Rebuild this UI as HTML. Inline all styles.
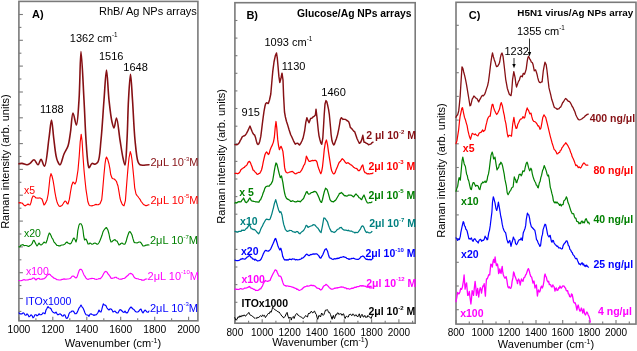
<!DOCTYPE html><html><head><meta charset="utf-8"><style>html,body{margin:0;padding:0;background:#fff;overflow:hidden}svg{display:block;will-change:transform}</style></head><body>
<svg width="637" height="351" viewBox="0 0 637 351" font-family='"Liberation Sans", sans-serif'>
<rect width="637" height="351" fill="#fff"/>
<rect x="18.9" y="1.4" width="179.0" height="319.40000000000003" fill="none" stroke="#7a7a7a" stroke-width="1.6"/>
<line x1="18.9" y1="14.5" x2="22.9" y2="14.5" stroke="#7a7a7a" stroke-width="1.1"/>
<line x1="18.9" y1="27.4" x2="21.4" y2="27.4" stroke="#7a7a7a" stroke-width="1.1"/>
<line x1="18.9" y1="40.3" x2="22.9" y2="40.3" stroke="#7a7a7a" stroke-width="1.1"/>
<line x1="18.9" y1="53.2" x2="21.4" y2="53.2" stroke="#7a7a7a" stroke-width="1.1"/>
<line x1="18.9" y1="66.1" x2="22.9" y2="66.1" stroke="#7a7a7a" stroke-width="1.1"/>
<line x1="18.9" y1="79.0" x2="21.4" y2="79.0" stroke="#7a7a7a" stroke-width="1.1"/>
<line x1="18.9" y1="92.0" x2="22.9" y2="92.0" stroke="#7a7a7a" stroke-width="1.1"/>
<line x1="18.9" y1="104.9" x2="21.4" y2="104.9" stroke="#7a7a7a" stroke-width="1.1"/>
<line x1="18.9" y1="117.8" x2="22.9" y2="117.8" stroke="#7a7a7a" stroke-width="1.1"/>
<line x1="18.9" y1="130.7" x2="21.4" y2="130.7" stroke="#7a7a7a" stroke-width="1.1"/>
<line x1="18.9" y1="143.6" x2="22.9" y2="143.6" stroke="#7a7a7a" stroke-width="1.1"/>
<line x1="18.9" y1="156.5" x2="21.4" y2="156.5" stroke="#7a7a7a" stroke-width="1.1"/>
<line x1="18.9" y1="169.4" x2="22.9" y2="169.4" stroke="#7a7a7a" stroke-width="1.1"/>
<line x1="18.9" y1="182.3" x2="21.4" y2="182.3" stroke="#7a7a7a" stroke-width="1.1"/>
<line x1="18.9" y1="195.2" x2="22.9" y2="195.2" stroke="#7a7a7a" stroke-width="1.1"/>
<line x1="18.9" y1="208.2" x2="21.4" y2="208.2" stroke="#7a7a7a" stroke-width="1.1"/>
<line x1="18.9" y1="221.1" x2="22.9" y2="221.1" stroke="#7a7a7a" stroke-width="1.1"/>
<line x1="18.9" y1="234.0" x2="21.4" y2="234.0" stroke="#7a7a7a" stroke-width="1.1"/>
<line x1="18.9" y1="246.9" x2="22.9" y2="246.9" stroke="#7a7a7a" stroke-width="1.1"/>
<line x1="18.9" y1="259.8" x2="21.4" y2="259.8" stroke="#7a7a7a" stroke-width="1.1"/>
<line x1="18.9" y1="272.7" x2="22.9" y2="272.7" stroke="#7a7a7a" stroke-width="1.1"/>
<line x1="18.9" y1="285.6" x2="21.4" y2="285.6" stroke="#7a7a7a" stroke-width="1.1"/>
<line x1="18.9" y1="298.5" x2="22.9" y2="298.5" stroke="#7a7a7a" stroke-width="1.1"/>
<line x1="18.9" y1="311.4" x2="21.4" y2="311.4" stroke="#7a7a7a" stroke-width="1.1"/>
<line x1="18.9" y1="320.8" x2="18.9" y2="316.8" stroke="#7a7a7a" stroke-width="1.1"/>
<line x1="35.9" y1="320.8" x2="35.9" y2="318.3" stroke="#7a7a7a" stroke-width="1.1"/>
<line x1="52.8" y1="320.8" x2="52.8" y2="316.8" stroke="#7a7a7a" stroke-width="1.1"/>
<line x1="69.8" y1="320.8" x2="69.8" y2="318.3" stroke="#7a7a7a" stroke-width="1.1"/>
<line x1="86.8" y1="320.8" x2="86.8" y2="316.8" stroke="#7a7a7a" stroke-width="1.1"/>
<line x1="103.8" y1="320.8" x2="103.8" y2="318.3" stroke="#7a7a7a" stroke-width="1.1"/>
<line x1="120.7" y1="320.8" x2="120.7" y2="316.8" stroke="#7a7a7a" stroke-width="1.1"/>
<line x1="137.7" y1="320.8" x2="137.7" y2="318.3" stroke="#7a7a7a" stroke-width="1.1"/>
<line x1="154.7" y1="320.8" x2="154.7" y2="316.8" stroke="#7a7a7a" stroke-width="1.1"/>
<line x1="171.6" y1="320.8" x2="171.6" y2="318.3" stroke="#7a7a7a" stroke-width="1.1"/>
<line x1="188.6" y1="320.8" x2="188.6" y2="316.8" stroke="#7a7a7a" stroke-width="1.1"/>
<text x="18.9" y="332.9" font-size="10.3" fill="#000" font-weight="normal" text-anchor="middle" >1000</text>
<text x="52.8" y="332.9" font-size="10.3" fill="#000" font-weight="normal" text-anchor="middle" >1200</text>
<text x="86.8" y="332.9" font-size="10.3" fill="#000" font-weight="normal" text-anchor="middle" >1400</text>
<text x="120.7" y="332.9" font-size="10.3" fill="#000" font-weight="normal" text-anchor="middle" >1600</text>
<text x="154.7" y="332.9" font-size="10.3" fill="#000" font-weight="normal" text-anchor="middle" >1800</text>
<text x="188.6" y="332.9" font-size="10.3" fill="#000" font-weight="normal" text-anchor="middle" >2000</text>
<text x="113" y="347.3" font-size="11" text-anchor="middle">Wavenumber (cm<tspan dy="-4" font-size="7">-1</tspan><tspan dy="4">)</tspan></text>
<text transform="translate(8.7,161.6) rotate(-90)" font-size="11" text-anchor="middle">Raman intensity (arb. units)</text>
<text x="32" y="18" font-size="11" fill="#000" font-weight="bold" text-anchor="start" >A)</text>
<text x="99" y="15.3" font-size="11" fill="#000" font-weight="normal" text-anchor="start" >RhB/ Ag NPs arrays</text>
<text x="69.8" y="41.6" font-size="11">1362 cm<tspan dy="-5" font-size="6.3">-1</tspan></text>
<text x="40" y="113" font-size="11" fill="#000" font-weight="normal" text-anchor="start" >1188</text>
<text x="99" y="60" font-size="11" fill="#000" font-weight="normal" text-anchor="start" >1516</text>
<text x="123.3" y="71.3" font-size="11" fill="#000" font-weight="normal" text-anchor="start" >1648</text>
<path d="M19.00,163.80 C20.00,163.67 20.88,163.32 22.00,163.40 C23.46,163.50 25.56,164.92 27.00,164.80 C28.15,164.71 28.98,164.08 30.00,163.40 C31.30,162.54 32.72,159.70 34.00,159.80 C35.40,159.91 36.83,164.90 38.00,164.80 C39.15,164.70 39.98,159.38 41.00,159.40 C42.14,159.42 43.47,166.37 44.50,166.20 C46.50,165.88 47.75,146.35 49.00,138.00 C49.99,131.33 50.72,119.99 51.50,120.00 C52.28,120.01 52.94,132.04 53.70,138.00 C54.45,143.88 55.16,151.33 56.00,155.50 C56.48,157.87 56.77,159.39 57.50,161.00 C58.15,162.44 59.16,164.90 60.00,164.80 C61.33,164.65 62.57,157.29 64.00,154.00 C65.26,151.10 66.96,149.12 68.00,146.00 C69.31,142.06 69.72,137.03 70.50,132.00 C71.41,126.16 71.85,113.08 73.00,113.00 C73.93,112.93 75.48,125.08 76.40,125.00 C77.70,124.89 78.30,109.71 79.00,100.00 C79.98,86.52 80.17,51.61 81.00,51.60 C81.83,51.59 83.14,84.63 84.00,100.00 C84.78,113.97 85.22,128.39 86.00,140.00 C86.60,148.96 87.24,159.20 88.00,163.80 C88.32,165.71 88.41,167.69 89.00,167.80 C89.67,167.92 90.82,163.84 92.00,163.40 C92.90,163.07 94.05,164.40 95.00,164.20 C96.06,163.98 97.17,163.26 98.00,161.80 C99.98,158.31 100.11,148.38 101.00,140.00 C102.20,128.69 103.02,112.37 104.00,100.00 C104.85,89.28 105.67,70.00 106.50,70.00 C107.33,70.00 107.99,90.79 109.00,100.00 C109.87,107.91 110.84,117.00 112.00,122.00 C112.62,124.67 113.34,128.03 114.00,128.00 C114.84,127.97 115.68,117.96 116.50,118.00 C117.70,118.05 118.87,133.04 120.00,140.00 C121.03,146.30 121.97,153.41 123.00,158.00 C123.65,160.90 124.44,165.06 125.00,165.00 C126.04,164.90 126.45,149.31 127.00,140.00 C127.69,128.23 127.82,111.86 128.50,100.00 C129.05,90.48 129.83,74.30 130.50,74.30 C131.17,74.30 131.83,90.49 132.50,100.00 C133.33,111.86 133.87,128.69 135.00,140.00 C135.84,148.38 136.54,157.95 138.00,161.80 C138.59,163.36 138.86,164.19 140.00,164.80 C141.81,165.77 146.00,164.80 149.00,164.80" fill="none" stroke="#861014" stroke-width="1.6" stroke-linejoin="round" stroke-linecap="round" opacity="1.0"/>
<path d="M19.0,202.9 L20.0,202.6 L21.0,202.9 L22.0,203.0 L23.0,204.0 L24.0,205.2 L25.0,205.9 L26.0,205.3 L27.0,204.7 L28.0,204.0 L29.0,204.8 L30.0,205.0 L31.0,202.6 L31.9,198.4 L33.0,196.0 L33.9,196.1 L34.9,196.9 L36.0,198.0 L37.0,198.0 L38.0,198.1 L39.0,198.0 L40.1,197.9 L41.1,198.6 L42.0,199.0 L43.1,202.2 L44.0,205.0 L44.9,204.1 L46.0,202.1 L47.0,200.0 L48.2,194.0 L49.2,185.0 L50.0,177.3 L51.0,173.6 L52.0,176.0 L53.1,180.6 L54.0,186.0 L54.9,192.1 L56.0,198.0 L56.8,201.2 L57.8,204.0 L59.0,206.0 L60.0,206.5 L61.0,205.9 L62.0,205.5 L63.1,203.8 L64.0,202.3 L65.0,201.0 L66.0,201.5 L67.1,203.6 L68.0,204.0 L69.4,199.2 L70.5,192.0 L71.6,185.8 L73.0,182.0 L74.0,182.9 L75.0,184.0 L76.2,181.5 L77.1,175.9 L78.0,170.0 L79.2,156.4 L80.2,141.9 L81.2,134.4 L82.1,141.0 L83.0,156.1 L84.0,170.0 L84.9,179.3 L85.9,188.8 L87.0,196.0 L87.8,201.5 L89.0,204.8 L89.9,205.7 L91.0,205.8 L91.9,205.9 L92.9,205.5 L93.9,205.3 L95.0,204.8 L96.0,204.4 L97.1,204.7 L98.1,204.8 L99.1,204.2 L100.0,203.8 L101.7,199.8 L102.4,193.1 L103.0,186.0 L104.0,174.3 L105.0,164.0 L105.7,159.3 L106.5,157.0 L107.7,159.4 L109.0,164.0 L109.9,168.7 L110.7,174.5 L112.0,178.0 L113.1,178.8 L114.2,179.0 L115.3,180.0 L116.4,181.3 L117.2,183.8 L118.0,186.0 L119.1,192.3 L120.0,198.0 L120.9,201.3 L122.0,203.8 L123.0,205.2 L124.0,205.8 L125.4,200.7 L126.2,190.4 L127.0,180.0 L128.0,167.9 L129.0,158.0 L130.3,151.6 L131.2,154.6 L132.0,160.0 L133.0,169.7 L134.0,180.0 L134.7,187.8 L136.0,194.0 L136.9,195.3 L137.9,196.5 L139.0,198.0 L140.0,199.3 L141.0,201.3 L142.0,202.5 L143.0,203.8 L144.0,204.8 L145.0,205.3 L146.0,205.8 L147.0,205.4 L148.0,204.9 L149.0,204.8" fill="none" stroke="#ff0000" stroke-width="1.15" stroke-linejoin="round" stroke-linecap="round" opacity="1.0"/>
<path d="M19.0,246.9 L20.0,246.6 L21.0,245.1 L22.0,245.0 L23.0,244.5 L24.0,245.7 L25.0,245.5 L26.0,245.5 L27.0,245.8 L28.0,246.3 L29.0,246.3 L30.0,245.5 L31.0,245.0 L32.1,243.7 L33.1,241.0 L34.0,240.3 L35.0,242.2 L36.0,244.3 L37.0,246.0 L38.0,244.6 L39.0,243.0 L40.0,244.4 L41.0,245.0 L42.0,244.4 L43.0,243.3 L44.0,242.0 L45.0,242.8 L46.0,243.0 L47.2,239.7 L48.2,235.9 L49.3,233.0 L50.2,234.0 L51.1,235.8 L52.0,238.0 L53.0,239.4 L53.9,241.8 L55.0,243.0 L55.9,244.1 L56.9,245.4 L58.0,245.5 L58.9,245.9 L60.0,245.9 L61.0,245.3 L62.0,245.0 L63.1,244.9 L64.1,244.5 L65.0,244.0 L66.0,242.6 L67.0,242.0 L67.9,243.0 L69.0,243.4 L70.0,244.0 L71.1,243.2 L72.1,241.3 L73.1,239.0 L74.0,238.0 L75.1,239.7 L76.0,242.0 L77.0,238.4 L77.8,230.6 L79.0,225.0 L80.0,223.7 L81.0,223.8 L82.1,225.7 L83.0,230.0 L83.7,236.0 L84.6,240.0 L86.0,239.0 L87.0,241.0 L88.0,244.0 L89.0,244.0 L90.0,243.0 L91.0,243.6 L92.0,244.3 L92.9,244.0 L94.0,243.3 L95.0,243.0 L96.0,243.5 L97.1,244.3 L98.0,244.0 L99.1,242.5 L100.1,240.3 L101.0,238.0 L102.0,235.3 L102.9,232.1 L104.0,230.0 L105.3,228.3 L106.5,227.5 L107.9,230.0 L109.0,234.0 L109.9,238.7 L111.0,242.0 L111.9,241.8 L112.9,240.7 L114.0,240.0 L115.0,239.6 L116.1,240.9 L117.0,241.0 L118.0,243.1 L119.0,245.0 L119.9,244.5 L120.9,243.5 L122.0,243.0 L123.0,243.7 L124.1,244.3 L125.0,244.0 L126.1,241.6 L127.0,238.0 L127.9,235.3 L129.0,232.3 L130.0,231.5 L131.0,233.1 L132.0,235.0 L132.9,238.4 L134.0,242.0 L134.9,242.7 L136.0,242.8 L137.0,243.0 L138.0,242.5 L139.0,242.0 L140.0,242.0 L141.0,242.8 L142.0,244.4 L143.0,246.0 L144.0,245.9 L145.0,245.7 L146.0,245.0 L147.0,245.1 L148.0,244.7 L149.0,245.0" fill="none" stroke="#008000" stroke-width="1.15" stroke-linejoin="round" stroke-linecap="round" opacity="1.0"/>
<path d="M19.0,280.5 L20.0,280.7 L21.0,280.6 L22.0,280.4 L23.0,280.0 L24.0,279.6 L25.0,280.1 L26.0,280.0 L27.0,280.0 L28.0,279.9 L29.0,279.4 L30.0,279.3 L31.0,279.3 L32.1,278.7 L33.1,278.0 L34.0,278.0 L35.0,279.0 L36.0,280.0 L37.0,278.9 L38.0,278.5 L38.9,278.3 L39.9,279.2 L41.0,279.3 L42.0,279.1 L43.0,278.9 L44.0,278.7 L45.0,278.0 L46.1,276.9 L47.1,275.3 L48.0,274.8 L49.0,274.0 L50.0,274.5 L51.0,275.6 L52.0,276.5 L53.0,277.3 L54.0,278.2 L55.0,278.4 L56.0,279.0 L57.0,279.7 L58.0,279.7 L59.0,280.0 L60.0,280.0 L61.0,279.9 L62.0,279.3 L63.0,279.3 L64.0,278.9 L65.0,279.1 L66.0,279.3 L67.0,279.0 L68.0,279.0 L69.0,278.8 L70.0,278.5 L71.0,277.8 L72.0,276.3 L73.0,276.0 L74.0,276.3 L75.0,277.4 L76.0,278.0 L77.1,276.8 L78.1,273.6 L79.1,270.7 L80.0,269.4 L81.2,269.4 L82.1,270.4 L83.0,272.6 L84.0,275.0 L85.0,276.4 L86.0,278.1 L87.0,279.0 L88.0,279.4 L89.0,279.0 L89.9,278.8 L90.9,278.6 L92.0,278.4 L93.0,278.5 L94.0,278.5 L95.0,279.2 L96.0,279.3 L97.0,279.3 L98.0,279.0 L99.1,278.6 L100.1,278.8 L101.0,278.0 L102.1,276.7 L103.1,274.8 L104.0,273.0 L105.0,271.7 L106.0,271.4 L107.0,272.1 L108.0,273.9 L109.0,275.0 L110.0,276.4 L111.0,278.1 L112.0,278.5 L113.0,278.0 L114.0,278.0 L115.0,277.3 L116.0,277.2 L117.0,278.0 L118.0,278.3 L119.0,279.0 L120.0,279.3 L121.0,279.1 L122.0,279.1 L123.0,278.5 L124.1,278.4 L125.0,278.0 L126.0,277.0 L127.1,276.0 L128.1,275.3 L129.0,274.0 L129.7,273.7 L130.5,273.4 L131.8,273.8 L133.0,275.0 L133.9,276.9 L135.0,278.0 L135.9,278.4 L136.9,278.6 L138.0,278.7 L139.0,279.3 L140.0,279.5 L141.0,279.5 L142.0,280.3 L143.0,280.0 L144.0,280.2 L145.0,279.4 L146.0,279.0 L147.0,279.0" fill="none" stroke="#ff00ff" stroke-width="1.15" stroke-linejoin="round" stroke-linecap="round" opacity="1.0"/>
<path d="M19.0,312.8 L20.0,313.8 L21.0,313.8 L22.0,313.9 L23.0,312.8 L24.0,313.3 L25.0,315.0 L26.0,315.3 L27.0,313.8 L28.0,314.8 L29.0,316.8 L30.0,316.1 L31.0,314.8 L32.0,315.6 L33.0,317.8 L34.0,316.8 L35.0,314.8 L36.0,314.7 L37.0,315.8 L38.0,315.2 L39.0,313.8 L40.0,314.7 L41.0,314.8 L42.0,314.3 L43.0,312.8 L44.1,313.2 L45.0,313.8 L46.0,310.0 L46.9,308.5 L48.0,306.5 L49.0,307.8 L50.0,308.0 L51.0,308.8 L52.0,311.0 L53.0,312.2 L54.0,312.8 L55.0,313.2 L56.0,312.0 L57.0,313.8 L58.0,314.8 L59.0,314.2 L60.0,313.8 L61.0,314.4 L62.0,315.8 L63.0,316.1 L64.0,314.8 L65.0,315.1 L66.1,318.0 L67.0,318.4 L68.0,317.1 L69.0,313.8 L70.0,312.2 L71.0,312.0 L72.0,311.0 L73.0,311.0 L74.0,312.0 L75.0,313.8 L76.0,313.7 L77.0,312.8 L78.1,310.3 L79.0,308.0 L80.0,306.8 L81.0,305.0 L82.0,306.8 L83.0,308.0 L84.0,310.2 L85.0,313.0 L86.0,314.8 L87.0,315.0 L88.0,315.1 L89.0,316.3 L90.0,314.3 L91.0,313.8 L92.0,314.5 L93.0,314.8 L94.0,315.5 L95.0,314.8 L96.0,315.0 L97.0,313.8 L98.0,312.5 L99.0,310.0 L100.0,311.7 L101.0,312.0 L101.8,309.4 L102.5,306.6 L103.3,303.9 L104.1,304.9 L105.0,305.0 L106.0,305.7 L107.0,308.0 L108.0,309.2 L109.0,310.0 L110.0,308.9 L111.0,309.0 L112.0,309.9 L113.0,312.0 L114.0,311.5 L115.0,311.0 L116.0,312.3 L117.0,313.0 L118.0,313.0 L119.0,311.0 L120.0,309.6 L121.0,310.0 L122.0,311.0 L123.0,312.0 L124.0,312.4 L125.0,311.0 L126.0,312.6 L127.0,313.0 L128.0,311.9 L129.1,309.3 L130.0,308.0 L131.0,307.0 L132.0,308.0 L133.0,309.0 L134.0,309.6 L135.0,311.0 L136.0,311.9 L137.0,312.0 L138.0,311.9 L139.0,311.0 L140.0,309.6 L141.0,309.0 L142.0,311.6 L143.0,313.0 L144.0,311.4 L145.0,310.0 L146.0,310.9 L147.0,312.0 L148.0,312.3 L149.0,311.0" fill="none" stroke="#0000ff" stroke-width="1.15" stroke-linejoin="round" stroke-linecap="round" opacity="1.0"/>
<text x="150.5" y="166" font-size="11" fill="#861014" font-weight="normal">2&#956;L 10<tspan dy="-5.5" font-size="6">-3</tspan><tspan dy="5.5">M</tspan></text>
<text x="150.5" y="203.8" font-size="11" fill="#ff0000" font-weight="normal">2&#956;L 10<tspan dy="-5.5" font-size="6">-5</tspan><tspan dy="5.5">M</tspan></text>
<text x="150" y="244" font-size="11" fill="#008000" font-weight="normal">2&#956;L 10<tspan dy="-5.5" font-size="6">-7</tspan><tspan dy="5.5">M</tspan></text>
<text x="147.6" y="279.8" font-size="11" fill="#ff00ff" font-weight="normal">2&#956;L 10<tspan dy="-5.5" font-size="6">-10</tspan><tspan dy="5.5">M</tspan></text>
<text x="150" y="311.9" font-size="11" fill="#0000ff" font-weight="normal">2&#956;L 10<tspan dy="-5.5" font-size="6">-3</tspan><tspan dy="5.5">M</tspan></text>
<text x="24" y="193.8" font-size="10.5" fill="#ff0000" font-weight="normal" text-anchor="start" >x5</text>
<text x="24" y="236.8" font-size="10.5" fill="#008000" font-weight="normal" text-anchor="start" >x20</text>
<text x="26" y="275.4" font-size="10.5" fill="#ff00ff" font-weight="normal" text-anchor="start" >x100</text>
<text x="25.4" y="304.9" font-size="10.5" fill="#0000ff" font-weight="normal" text-anchor="start" >ITOx1000</text>
<rect x="234.9" y="2.7" width="180.29999999999998" height="320.5" fill="none" stroke="#7a7a7a" stroke-width="1.6"/>
<line x1="234.9" y1="20.5" x2="237.4" y2="20.5" stroke="#7a7a7a" stroke-width="1.1"/>
<line x1="234.9" y1="38.1" x2="237.4" y2="38.1" stroke="#7a7a7a" stroke-width="1.1"/>
<line x1="234.9" y1="55.7" x2="237.4" y2="55.7" stroke="#7a7a7a" stroke-width="1.1"/>
<line x1="234.9" y1="73.3" x2="237.4" y2="73.3" stroke="#7a7a7a" stroke-width="1.1"/>
<line x1="234.9" y1="90.9" x2="237.4" y2="90.9" stroke="#7a7a7a" stroke-width="1.1"/>
<line x1="234.9" y1="108.5" x2="237.4" y2="108.5" stroke="#7a7a7a" stroke-width="1.1"/>
<line x1="234.9" y1="126.2" x2="237.4" y2="126.2" stroke="#7a7a7a" stroke-width="1.1"/>
<line x1="234.9" y1="143.8" x2="237.4" y2="143.8" stroke="#7a7a7a" stroke-width="1.1"/>
<line x1="234.9" y1="161.4" x2="237.4" y2="161.4" stroke="#7a7a7a" stroke-width="1.1"/>
<line x1="234.9" y1="179.0" x2="237.4" y2="179.0" stroke="#7a7a7a" stroke-width="1.1"/>
<line x1="234.9" y1="196.6" x2="237.4" y2="196.6" stroke="#7a7a7a" stroke-width="1.1"/>
<line x1="234.9" y1="214.2" x2="237.4" y2="214.2" stroke="#7a7a7a" stroke-width="1.1"/>
<line x1="234.9" y1="231.8" x2="237.4" y2="231.8" stroke="#7a7a7a" stroke-width="1.1"/>
<line x1="234.9" y1="249.4" x2="237.4" y2="249.4" stroke="#7a7a7a" stroke-width="1.1"/>
<line x1="234.9" y1="267.0" x2="237.4" y2="267.0" stroke="#7a7a7a" stroke-width="1.1"/>
<line x1="234.9" y1="284.6" x2="237.4" y2="284.6" stroke="#7a7a7a" stroke-width="1.1"/>
<line x1="234.9" y1="302.3" x2="237.4" y2="302.3" stroke="#7a7a7a" stroke-width="1.1"/>
<line x1="234.9" y1="319.9" x2="237.4" y2="319.9" stroke="#7a7a7a" stroke-width="1.1"/>
<line x1="234.9" y1="323.2" x2="234.9" y2="319.2" stroke="#7a7a7a" stroke-width="1.1"/>
<line x1="248.6" y1="323.2" x2="248.6" y2="320.7" stroke="#7a7a7a" stroke-width="1.1"/>
<line x1="262.2" y1="323.2" x2="262.2" y2="319.2" stroke="#7a7a7a" stroke-width="1.1"/>
<line x1="275.9" y1="323.2" x2="275.9" y2="320.7" stroke="#7a7a7a" stroke-width="1.1"/>
<line x1="289.6" y1="323.2" x2="289.6" y2="319.2" stroke="#7a7a7a" stroke-width="1.1"/>
<line x1="303.2" y1="323.2" x2="303.2" y2="320.7" stroke="#7a7a7a" stroke-width="1.1"/>
<line x1="316.9" y1="323.2" x2="316.9" y2="319.2" stroke="#7a7a7a" stroke-width="1.1"/>
<line x1="330.6" y1="323.2" x2="330.6" y2="320.7" stroke="#7a7a7a" stroke-width="1.1"/>
<line x1="344.2" y1="323.2" x2="344.2" y2="319.2" stroke="#7a7a7a" stroke-width="1.1"/>
<line x1="357.9" y1="323.2" x2="357.9" y2="320.7" stroke="#7a7a7a" stroke-width="1.1"/>
<line x1="371.6" y1="323.2" x2="371.6" y2="319.2" stroke="#7a7a7a" stroke-width="1.1"/>
<line x1="385.2" y1="323.2" x2="385.2" y2="320.7" stroke="#7a7a7a" stroke-width="1.1"/>
<line x1="398.9" y1="323.2" x2="398.9" y2="319.2" stroke="#7a7a7a" stroke-width="1.1"/>
<line x1="412.6" y1="323.2" x2="412.6" y2="320.7" stroke="#7a7a7a" stroke-width="1.1"/>
<text x="234.9" y="335.7" font-size="10" fill="#000" font-weight="normal" text-anchor="middle" >800</text>
<text x="262.2" y="335.7" font-size="10" fill="#000" font-weight="normal" text-anchor="middle" >1000</text>
<text x="289.6" y="335.7" font-size="10" fill="#000" font-weight="normal" text-anchor="middle" >1200</text>
<text x="316.9" y="335.7" font-size="10" fill="#000" font-weight="normal" text-anchor="middle" >1400</text>
<text x="344.2" y="335.7" font-size="10" fill="#000" font-weight="normal" text-anchor="middle" >1600</text>
<text x="371.6" y="335.7" font-size="10" fill="#000" font-weight="normal" text-anchor="middle" >1800</text>
<text x="398.9" y="335.7" font-size="10" fill="#000" font-weight="normal" text-anchor="middle" >2000</text>
<text x="320.3" y="346" font-size="11" text-anchor="middle">Wavenumber (cm<tspan dy="-4" font-size="7">-1</tspan><tspan dy="4">)</tspan></text>
<text transform="translate(224.6,156.4) rotate(-90)" font-size="11" text-anchor="middle">Raman intensity (arb. units)</text>
<text x="246.4" y="19.1" font-size="11" fill="#000" font-weight="bold" text-anchor="start" >B)</text>
<text x="297" y="16.6" font-size="10.35" fill="#000" font-weight="bold" text-anchor="start" >Glucose/Ag NPs arrays</text>
<text x="264.5" y="46.2" font-size="11">1093 cm<tspan dy="-5" font-size="6.3">-1</tspan></text>
<text x="281.8" y="70" font-size="11" fill="#000" font-weight="normal" text-anchor="start" >1130</text>
<text x="241.6" y="116.4" font-size="11" fill="#000" font-weight="normal" text-anchor="start" >915</text>
<text x="321.3" y="96.4" font-size="11" fill="#000" font-weight="normal" text-anchor="start" >1460</text>
<path d="M235.0,144.6 L236.2,144.7 L237.3,144.6 L238.4,143.7 L239.4,142.5 L240.2,140.6 L241.0,139.4 L242.2,136.9 L243.5,136.0 L244.4,135.8 L245.3,135.2 L246.6,133.3 L247.8,130.9 L249.0,128.2 L250.0,126.1 L251.2,129.2 L252.0,131.3 L253.0,133.5 L253.9,134.6 L254.7,135.2 L255.6,137.8 L256.4,141.2 L257.2,143.8 L258.0,144.6 L258.9,143.7 L259.8,141.2 L260.8,136.4 L261.5,130.9 L262.3,124.1 L263.2,117.2 L264.0,111.3 L265.0,106.0 L265.7,103.5 L266.6,102.7 L267.5,103.2 L268.3,103.5 L269.5,100.0 L270.8,94.0 L272.0,80.0 L272.8,71.1 L274.0,62.0 L275.3,55.9 L276.5,53.0 L277.3,58.2 L278.0,66.0 L278.9,76.4 L279.8,82.5 L281.0,78.0 L282.0,73.2 L283.0,80.0 L283.6,96.1 L284.5,112.0 L285.4,117.0 L286.5,121.5 L287.7,125.1 L289.0,129.5 L289.9,132.3 L290.7,134.7 L291.6,136.5 L292.6,138.7 L293.5,140.8 L294.3,142.3 L295.3,144.2 L296.5,143.4 L297.8,143.3 L298.7,144.4 L299.5,145.0 L300.8,143.3 L302.0,140.8 L303.0,138.3 L303.9,134.3 L304.7,130.5 L305.8,122.3 L306.9,117.7 L307.9,120.4 L309.0,122.8 L309.7,120.9 L310.6,118.5 L311.4,118.3 L312.3,117.8 L313.2,116.8 L314.4,116.1 L315.4,115.1 L316.0,109.2 L317.0,117.7 L318.3,130.5 L319.0,135.8 L320.0,140.0 L320.9,143.0 L321.8,144.2 L322.8,138.2 L323.5,127.0 L324.2,115.0 L325.0,104.0 L326.0,100.6 L326.8,101.6 L327.6,105.0 L328.5,109.2 L329.3,114.3 L330.5,127.0 L331.1,134.5 L332.0,140.8 L332.8,143.4 L333.7,145.0 L334.5,144.1 L335.5,141.1 L336.3,139.0 L337.6,134.6 L338.8,128.8 L339.6,124.4 L340.4,119.4 L341.4,117.7 L342.2,118.6 L343.0,119.4 L343.8,119.2 L344.6,119.4 L345.7,119.5 L346.8,120.5 L347.8,121.0 L348.7,121.7 L349.5,124.0 L350.3,127.4 L351.3,128.3 L352.5,129.6 L353.7,131.1 L354.8,131.9 L356.0,135.4 L357.1,138.7 L358.2,141.0 L359.4,143.3 L360.6,142.4 L361.7,139.9 L362.8,135.3 L364.0,142.2 L365.0,142.3 L366.2,143.3 L367.3,143.6 L368.5,144.8 L369.6,144.4 L370.8,144.1 L371.9,142.8 L373.0,142.2" fill="none" stroke="#861014" stroke-width="1.45" stroke-linejoin="round" stroke-linecap="round" opacity="1.0"/>
<path d="M235.0,173.3 L235.9,173.3 L236.8,173.4 L237.6,173.8 L238.9,173.1 L240.1,171.6 L240.9,169.8 L241.8,169.0 L242.6,168.5 L243.5,167.8 L244.4,167.4 L245.3,166.1 L246.2,165.7 L247.0,164.8 L248.3,162.1 L249.5,161.4 L250.4,162.6 L251.2,164.8 L252.1,167.0 L253.0,170.0 L253.8,170.4 L254.7,171.6 L255.5,172.4 L256.4,173.3 L257.2,174.3 L258.0,174.2 L258.9,173.5 L259.8,173.3 L260.7,171.6 L261.5,170.0 L262.4,166.5 L263.2,162.2 L264.0,158.6 L265.0,154.5 L265.8,152.9 L266.6,152.0 L267.5,153.1 L268.3,154.5 L269.2,153.5 L270.0,150.3 L271.2,147.3 L272.3,145.1 L273.4,142.1 L274.3,137.7 L275.2,127.7 L276.0,121.5 L276.8,128.1 L277.7,139.4 L278.5,145.5 L279.4,149.7 L280.2,147.8 L281.0,146.3 L282.0,148.4 L282.9,151.4 L283.8,159.0 L284.6,167.4 L285.3,170.6 L286.3,172.5 L287.5,172.9 L288.8,172.5 L289.7,172.0 L290.5,171.8 L291.4,171.6 L292.3,171.4 L293.2,172.1 L294.2,173.0 L295.1,173.7 L296.0,173.8 L296.8,173.1 L297.7,172.8 L298.6,172.4 L299.5,172.5 L300.3,172.0 L301.6,170.1 L302.8,167.7 L303.7,165.5 L304.7,164.1 L305.4,161.7 L306.4,156.2 L307.1,157.6 L307.9,159.4 L309.0,161.3 L310.0,161.4 L311.2,160.8 L312.4,160.4 L313.6,160.6 L314.8,160.4 L315.8,160.4 L317.0,162.2 L317.9,166.1 L318.7,168.5 L319.8,171.4 L320.8,173.7 L321.7,171.2 L322.5,166.8 L323.4,158.5 L324.3,149.3 L325.3,142.9 L326.4,140.0 L327.5,144.7 L328.6,152.7 L329.8,160.3 L331.0,168.0 L331.8,171.0 L332.7,172.8 L333.5,173.8 L334.4,173.7 L335.3,172.1 L336.2,169.4 L337.4,166.8 L338.7,163.4 L339.6,161.9 L340.5,161.2 L341.3,160.0 L342.3,158.7 L343.1,159.4 L344.0,160.4 L345.2,162.2 L346.4,163.4 L347.2,163.0 L348.0,162.7 L349.1,163.6 L350.3,164.6 L351.4,165.0 L352.6,166.1 L353.7,167.2 L354.8,168.0 L356.0,168.4 L357.1,168.8 L358.3,170.6 L359.4,170.7 L360.7,168.8 L361.7,166.1 L362.8,165.0 L364.0,170.7 L365.0,172.6 L366.2,173.0 L367.3,173.9 L368.4,173.6 L369.6,174.0 L370.7,173.7 L371.9,173.6 L373.0,173.0" fill="none" stroke="#ff0000" stroke-width="1.25" stroke-linejoin="round" stroke-linecap="round" opacity="1.0"/>
<path d="M235.0,203.1 L235.9,202.4 L236.7,203.0 L237.6,202.2 L238.9,201.7 L240.1,201.9 L241.1,201.6 L242.0,200.0 L242.7,199.7 L243.5,198.0 L244.3,199.5 L245.3,201.9 L246.5,202.6 L247.8,201.4 L249.0,199.1 L250.0,198.0 L251.2,200.5 L252.0,201.1 L252.9,201.1 L253.8,201.4 L254.7,201.5 L255.6,201.8 L256.4,201.9 L257.2,201.8 L258.0,202.2 L258.9,202.1 L259.8,200.3 L260.6,199.7 L261.6,197.3 L262.4,195.4 L263.2,192.7 L264.0,191.1 L264.8,188.4 L265.8,186.8 L267.0,186.2 L268.3,186.0 L269.2,186.0 L270.1,184.8 L270.9,184.3 L271.9,182.4 L272.6,181.0 L273.5,175.9 L274.3,170.8 L275.1,166.5 L276.0,163.0 L276.9,164.1 L277.7,167.4 L279.1,173.3 L280.3,177.6 L281.5,175.9 L282.9,182.7 L283.7,188.1 L284.6,193.0 L285.3,195.7 L286.3,198.0 L287.5,199.2 L288.8,199.7 L289.7,200.2 L290.6,201.3 L291.4,201.4 L292.6,200.7 L293.8,201.3 L295.1,201.9 L296.0,201.9 L296.8,201.7 L297.7,201.0 L298.6,201.4 L299.5,201.3 L300.3,201.9 L301.6,200.4 L302.8,199.3 L303.7,198.2 L304.6,195.8 L305.4,194.2 L306.3,192.1 L307.1,191.6 L307.9,193.4 L308.8,194.2 L309.6,194.0 L310.5,193.4 L311.4,192.5 L312.6,192.4 L313.9,191.6 L314.8,191.4 L315.7,191.8 L316.5,192.5 L317.5,194.5 L318.2,195.9 L319.0,197.7 L319.9,200.2 L320.8,202.0 L321.6,202.4 L322.5,199.5 L323.3,195.9 L324.4,191.4 L325.6,188.2 L326.5,188.9 L327.3,189.9 L328.4,193.7 L329.3,196.8 L330.0,199.6 L331.0,201.0 L331.8,201.6 L332.7,201.5 L333.6,201.9 L334.5,200.9 L335.4,200.4 L336.2,199.3 L337.4,197.2 L338.7,195.0 L339.5,193.4 L340.4,193.4 L341.3,192.5 L342.5,193.5 L343.8,195.0 L344.7,195.8 L345.8,195.7 L346.8,196.2 L347.7,195.7 L348.5,195.0 L349.4,195.0 L350.3,195.0 L351.5,195.3 L352.7,196.4 L353.7,196.9 L354.9,195.2 L356.0,193.9 L357.1,195.1 L358.2,196.2 L359.0,197.7 L360.0,198.0 L360.9,199.2 L361.7,199.6 L362.9,196.8 L364.0,195.0 L365.0,197.6 L366.2,200.8 L367.3,202.8 L368.5,203.0 L369.6,202.5 L370.7,202.7 L371.9,201.9" fill="none" stroke="#008000" stroke-width="1.25" stroke-linejoin="round" stroke-linecap="round" opacity="1.0"/>
<path d="M235.0,231.3 L235.9,231.6 L236.7,231.8 L237.6,232.1 L238.9,231.4 L240.1,231.3 L241.0,231.4 L241.8,230.1 L242.7,230.4 L243.6,230.2 L244.5,230.4 L245.3,229.6 L246.3,228.4 L247.3,227.9 L248.5,225.9 L249.5,224.4 L250.3,226.4 L251.2,228.7 L252.1,228.8 L253.0,229.6 L253.9,229.4 L254.7,229.6 L255.6,230.6 L256.4,231.3 L257.5,232.8 L258.6,233.8 L259.6,232.4 L260.6,229.6 L261.5,227.5 L262.4,226.2 L263.2,224.1 L264.0,222.7 L265.4,220.2 L266.4,219.1 L267.5,219.3 L268.4,219.6 L269.2,219.7 L270.1,219.1 L270.9,216.8 L271.8,214.1 L272.6,210.8 L273.5,207.6 L274.3,203.9 L275.7,199.7 L276.9,203.9 L277.7,206.9 L278.6,209.9 L279.8,212.5 L280.8,211.6 L282.0,215.0 L282.8,219.9 L283.7,224.4 L284.5,226.8 L285.4,229.6 L286.2,230.4 L287.1,231.3 L287.9,231.3 L288.8,230.9 L289.7,230.4 L290.7,230.5 L291.6,230.6 L292.6,231.6 L293.9,231.9 L295.1,232.5 L296.0,231.9 L296.9,231.5 L297.7,231.6 L298.8,233.1 L299.9,233.8 L300.9,232.6 L302.0,231.6 L303.3,230.8 L304.5,229.0 L305.4,227.2 L306.2,225.3 L307.1,225.7 L308.0,227.4 L308.8,226.9 L309.7,226.5 L310.9,226.0 L312.2,225.6 L313.1,224.6 L314.0,224.8 L314.8,224.8 L316.0,226.4 L317.0,227.4 L318.0,228.2 L319.0,229.9 L320.1,231.7 L321.1,232.5 L322.5,225.6 L323.8,218.0 L324.8,218.1 L325.9,219.7 L326.8,220.9 L327.6,222.2 L328.5,225.2 L329.3,227.4 L330.2,229.4 L331.4,231.6 L332.3,231.6 L333.2,232.0 L334.1,232.5 L335.2,231.9 L336.2,230.8 L337.4,229.3 L338.7,229.0 L339.6,227.8 L340.4,227.6 L341.3,227.4 L342.5,229.0 L343.8,229.9 L344.7,230.1 L345.8,230.2 L346.8,230.4 L347.7,230.7 L348.5,230.2 L349.4,231.0 L350.3,231.1 L351.4,231.0 L352.6,231.8 L353.7,232.0 L354.9,232.9 L356.0,232.2 L357.1,232.7 L358.3,231.9 L359.4,230.4 L360.5,228.8 L361.7,226.3 L362.8,225.8 L363.9,227.4 L365.0,230.4 L365.8,231.8 L366.6,232.5 L367.6,232.0 L368.5,232.7 L369.6,232.8 L370.8,232.6 L371.9,231.5" fill="none" stroke="#008080" stroke-width="1.25" stroke-linejoin="round" stroke-linecap="round" opacity="1.0"/>
<path d="M235.0,260.2 L235.9,260.5 L236.7,260.6 L237.6,260.7 L238.9,260.4 L240.1,259.7 L241.0,258.9 L241.8,259.2 L242.7,258.5 L243.6,259.0 L244.5,259.1 L245.3,259.0 L246.6,257.6 L247.8,256.8 L248.7,256.0 L249.5,255.6 L250.3,256.2 L251.2,257.6 L252.0,257.8 L252.9,259.1 L253.8,259.0 L254.7,260.0 L255.5,259.3 L256.4,260.2 L257.7,261.0 L258.9,260.7 L260.0,260.3 L261.0,259.3 L262.4,256.2 L263.2,254.1 L264.0,252.5 L264.8,251.0 L265.8,250.4 L267.0,250.9 L268.3,251.1 L269.2,250.6 L270.0,249.9 L270.9,248.6 L271.8,246.5 L272.9,244.1 L274.0,241.4 L274.9,239.1 L275.7,238.5 L276.9,242.2 L277.7,245.2 L278.6,247.4 L279.8,249.9 L280.8,248.2 L282.0,252.5 L282.7,256.3 L283.7,258.5 L284.5,259.8 L285.4,259.7 L286.2,260.1 L287.1,259.6 L288.0,260.2 L288.9,259.4 L289.7,259.2 L290.6,259.3 L291.5,259.7 L292.4,258.8 L293.4,259.0 L294.4,259.0 L295.5,259.9 L296.6,259.5 L297.7,259.8 L298.9,259.7 L300.0,259.3 L301.0,259.0 L302.0,258.0 L302.8,258.1 L303.7,257.3 L304.9,256.0 L306.2,254.4 L307.0,254.2 L307.9,254.9 L308.8,255.6 L309.7,255.3 L310.5,254.5 L311.4,254.7 L312.6,254.2 L313.9,253.8 L314.8,254.1 L315.7,253.8 L316.5,253.8 L317.6,254.6 L318.7,255.6 L319.8,257.6 L320.8,258.1 L321.8,256.4 L322.8,254.7 L323.9,252.0 L325.0,249.6 L326.2,248.7 L327.6,251.3 L328.3,254.2 L329.3,257.3 L330.1,258.2 L330.9,258.2 L331.9,259.0 L333.0,259.5 L334.2,258.7 L335.3,259.0 L336.2,258.4 L337.0,258.8 L337.9,258.1 L339.0,258.3 L340.1,257.4 L341.3,257.3 L342.4,257.0 L343.5,256.7 L344.6,257.1 L345.7,257.3 L346.8,258.4 L347.9,258.6 L349.1,259.4 L350.0,258.9 L350.9,259.0 L351.9,258.3 L352.8,258.5 L353.7,258.2 L354.8,258.8 L356.0,259.2 L357.1,259.3 L358.2,259.4 L359.2,258.7 L360.1,258.0 L361.0,256.5 L361.9,256.5 L362.8,256.0 L363.9,256.6 L365.0,258.1 L366.2,259.4 L367.0,259.1 L367.9,259.6 L368.9,259.7 L369.9,259.4 L370.9,259.9 L371.9,259.4" fill="none" stroke="#0000ff" stroke-width="1.25" stroke-linejoin="round" stroke-linecap="round" opacity="1.0"/>
<path d="M235.0,289.0 L235.9,289.1 L236.7,289.4 L237.6,289.4 L238.8,289.5 L240.1,288.7 L241.0,288.7 L241.8,289.0 L242.7,289.0 L243.6,288.9 L244.4,288.2 L245.3,288.2 L246.6,287.8 L247.8,287.4 L248.7,286.9 L249.5,286.5 L250.3,287.5 L251.2,288.2 L252.0,288.3 L252.9,288.8 L253.8,289.4 L254.7,289.4 L255.5,290.5 L256.4,290.4 L257.7,290.5 L258.9,289.9 L259.8,288.8 L260.7,288.9 L261.5,287.4 L262.4,286.2 L263.2,283.9 L264.2,282.0 L265.4,280.5 L266.4,281.0 L267.5,281.4 L268.8,280.9 L270.0,280.5 L271.0,278.1 L271.8,276.2 L272.9,274.0 L274.0,272.0 L274.9,270.2 L275.7,269.9 L276.6,270.7 L277.4,272.8 L278.2,274.5 L279.1,276.2 L280.3,276.2 L281.2,277.2 L282.0,279.7 L282.8,282.4 L283.7,284.8 L284.5,285.3 L285.4,285.6 L286.2,286.1 L287.1,285.9 L288.0,286.0 L288.9,286.3 L289.8,286.3 L290.6,286.5 L291.6,286.9 L292.6,287.1 L293.8,287.6 L295.1,288.3 L296.0,288.4 L296.8,289.4 L297.7,289.2 L298.6,290.1 L299.4,290.3 L300.3,290.0 L301.6,289.5 L302.8,288.3 L303.7,287.5 L304.5,286.8 L305.4,286.6 L306.3,286.2 L307.1,285.8 L308.0,286.1 L309.2,286.0 L310.5,285.4 L311.4,285.2 L312.2,285.6 L313.1,285.4 L314.4,285.8 L315.6,286.6 L316.5,287.6 L317.3,288.1 L318.2,288.3 L319.1,288.5 L320.0,289.5 L320.8,290.0 L322.1,289.0 L323.3,286.6 L324.2,285.6 L325.1,285.3 L325.9,284.4 L326.8,284.8 L327.6,285.8 L328.4,286.2 L329.3,287.7 L330.2,288.3 L331.4,289.2 L332.7,289.2 L333.6,288.8 L334.4,288.2 L335.3,288.3 L336.2,287.8 L337.0,288.2 L337.9,287.5 L339.1,287.5 L340.4,287.1 L341.4,286.8 L342.4,287.1 L343.5,287.2 L344.6,287.9 L345.7,287.8 L346.8,288.9 L348.0,288.5 L349.1,289.0 L350.0,289.0 L350.9,288.7 L351.9,288.1 L352.8,288.4 L353.7,287.9 L354.8,287.2 L356.0,287.4 L357.1,286.6 L358.2,286.7 L359.1,286.4 L360.1,285.8 L361.0,285.6 L361.9,286.1 L362.8,285.6 L363.9,286.1 L365.0,286.1 L366.2,286.7 L367.1,287.3 L368.0,286.8 L369.0,287.2 L369.9,287.9 L370.9,287.8 L371.9,287.9" fill="none" stroke="#ff00ff" stroke-width="1.25" stroke-linejoin="round" stroke-linecap="round" opacity="1.0"/>
<path d="M234.8,317.6 L235.8,320.0 L236.5,319.4 L237.2,319.0 L238.1,316.7 L239.1,317.6 L240.0,315.7 L240.9,317.1 L241.9,315.3 L243.1,316.2 L244.2,314.8 L245.2,316.2 L245.9,315.9 L246.6,314.8 L247.5,313.8 L248.2,313.5 L248.8,312.4 L249.9,314.8 L250.8,315.3 L251.8,315.7 L252.9,316.7 L254.1,317.6 L255.1,318.5 L256.0,317.6 L257.0,318.5 L257.9,317.1 L258.8,317.6 L259.8,316.2 L260.7,315.7 L261.7,316.7 L262.6,314.8 L263.6,316.2 L264.5,315.3 L265.4,317.6 L266.4,316.2 L267.3,314.8 L268.3,313.4 L269.2,313.8 L270.1,311.5 L271.1,312.4 L272.0,309.6 L272.7,307.2 L273.4,308.2 L274.4,309.1 L275.3,310.1 L276.3,310.5 L277.2,311.0 L278.2,312.0 L279.1,312.0 L280.0,313.4 L281.0,314.8 L281.9,316.2 L282.9,316.7 L283.6,318.1 L284.3,317.1 L285.2,316.2 L286.2,313.8 L287.1,312.4 L288.0,316.2 L289.0,318.5 L289.9,317.1 L290.9,318.1 L291.3,320.1 L292.0,317.6 L292.6,317.0 L293.4,316.5 L294.1,318.5 L294.9,316.2 L295.7,314.6 L296.5,313.6 L297.3,313.8 L298.1,315.4 L298.8,315.4 L299.6,316.4 L300.4,316.7 L301.2,317.0 L302.2,317.9 L303.2,318.5 L304.1,317.8 L305.1,316.2 L305.9,315.5 L306.7,316.6 L307.5,317.0 L308.2,314.1 L309.0,313.0 L309.8,313.6 L310.6,312.0 L311.4,311.2 L312.2,312.6 L313.0,312.9 L313.8,311.5 L314.6,311.1 L315.3,313.0 L316.4,314.6 L317.0,317.4 L317.7,319.3 L318.9,315.4 L319.7,315.8 L320.5,317.0 L321.6,313.0 L322.4,314.0 L323.2,315.4 L323.9,314.7 L324.7,312.3 L325.5,310.1 L326.3,310.4 L327.1,309.4 L327.9,310.7 L328.7,312.6 L329.5,312.3 L330.5,314.6 L331.3,317.0 L332.1,319.3 L332.8,316.3 L333.4,315.4 L334.0,318.2 L334.6,318.5 L335.7,314.6 L336.5,315.0 L337.3,313.0 L338.1,312.8 L338.9,314.6 L339.6,314.0 L340.4,313.8 L341.2,313.7 L342.0,315.4 L342.8,314.1 L343.6,313.8 L344.4,316.5 L345.1,318.5 L345.9,316.5 L346.7,316.2 L347.5,317.1 L348.3,317.0 L349.1,314.6 L349.9,314.6 L350.6,314.1 L351.4,315.4 L352.2,315.4 L353.0,313.8 L353.8,314.7 L354.6,316.2 L355.4,315.2 L356.1,314.6 L356.9,316.0 L357.7,317.0 L358.5,315.3 L359.3,313.8 L360.4,317.8 L361.0,315.9 L361.6,314.6 L362.4,314.6 L363.2,317.0 L364.0,316.8 L364.8,315.4 L365.6,317.4 L366.3,317.0 L367.1,317.4 L367.9,315.4 L368.7,316.6 L369.5,317.0 L370.3,317.4 L371.1,318.5 L372.3,315.4" fill="none" stroke="#000000" stroke-width="1.0" stroke-linejoin="round" stroke-linecap="round" opacity="1.0"/>
<text x="366.2" y="139.2" font-size="10.5" fill="#861014" font-weight="bold">2 &#956;l 10<tspan dy="-5.5" font-size="6">-2</tspan><tspan dy="5.5"> M</tspan></text>
<text x="368.5" y="169.5" font-size="10.5" fill="#ff0000" font-weight="bold">2&#956;l 10<tspan dy="-5.5" font-size="6">-3</tspan><tspan dy="5.5"> M</tspan></text>
<text x="368.5" y="198.5" font-size="10.5" fill="#008000" font-weight="bold">2&#956;l 10<tspan dy="-5.5" font-size="6">-5</tspan><tspan dy="5.5"> M</tspan></text>
<text x="369.2" y="227.4" font-size="10.5" fill="#008080" font-weight="bold">2&#956;l 10<tspan dy="-5.5" font-size="6">-7</tspan><tspan dy="5.5"> M</tspan></text>
<text x="365.5" y="257.1" font-size="10.5" fill="#0000ff" font-weight="bold">2&#956;l 10<tspan dy="-5.5" font-size="6">-10</tspan><tspan dy="5.5"> M</tspan></text>
<text x="366.2" y="286.7" font-size="10.5" fill="#ff00ff" font-weight="bold">2&#956;l 10<tspan dy="-5.5" font-size="6">-12</tspan><tspan dy="5.5"> M</tspan></text>
<text x="368.5" y="315.2" font-size="10.5" fill="#000000" font-weight="bold">2&#956;l 10<tspan dy="-5.5" font-size="6">-2</tspan><tspan dy="5.5"> M</tspan></text>
<text x="239.3" y="196.4" font-size="10.5" fill="#008000" font-weight="bold" text-anchor="start" >x 5</text>
<text x="240.1" y="224.8" font-size="10.5" fill="#008080" font-weight="bold" text-anchor="start" >x10</text>
<text x="241" y="255" font-size="10.5" fill="#0000ff" font-weight="bold" text-anchor="start" >x20</text>
<text x="241.5" y="283" font-size="10.5" fill="#ff00ff" font-weight="bold" text-anchor="start" >x100</text>
<text x="241.5" y="307" font-size="10.5" fill="#000000" font-weight="bold" text-anchor="start" >ITOx1000</text>
<rect x="456.0" y="2.3" width="180.0" height="321.8" fill="none" stroke="#7a7a7a" stroke-width="1.6"/>
<line x1="456.0" y1="25.3" x2="458.8" y2="25.3" stroke="#7a7a7a" stroke-width="1.1"/>
<line x1="456.0" y1="49.0" x2="458.8" y2="49.0" stroke="#7a7a7a" stroke-width="1.1"/>
<line x1="456.0" y1="72.7" x2="458.8" y2="72.7" stroke="#7a7a7a" stroke-width="1.1"/>
<line x1="456.0" y1="96.4" x2="458.8" y2="96.4" stroke="#7a7a7a" stroke-width="1.1"/>
<line x1="456.0" y1="120.1" x2="458.8" y2="120.1" stroke="#7a7a7a" stroke-width="1.1"/>
<line x1="456.0" y1="143.8" x2="458.8" y2="143.8" stroke="#7a7a7a" stroke-width="1.1"/>
<line x1="456.0" y1="167.5" x2="458.8" y2="167.5" stroke="#7a7a7a" stroke-width="1.1"/>
<line x1="456.0" y1="191.2" x2="458.8" y2="191.2" stroke="#7a7a7a" stroke-width="1.1"/>
<line x1="456.0" y1="214.9" x2="458.8" y2="214.9" stroke="#7a7a7a" stroke-width="1.1"/>
<line x1="456.0" y1="238.6" x2="458.8" y2="238.6" stroke="#7a7a7a" stroke-width="1.1"/>
<line x1="456.0" y1="262.3" x2="458.8" y2="262.3" stroke="#7a7a7a" stroke-width="1.1"/>
<line x1="456.0" y1="286.0" x2="458.8" y2="286.0" stroke="#7a7a7a" stroke-width="1.1"/>
<line x1="456.0" y1="309.7" x2="458.8" y2="309.7" stroke="#7a7a7a" stroke-width="1.1"/>
<line x1="456.0" y1="324.1" x2="456.0" y2="320.1" stroke="#7a7a7a" stroke-width="1.1"/>
<line x1="469.3" y1="324.1" x2="469.3" y2="321.6" stroke="#7a7a7a" stroke-width="1.1"/>
<line x1="482.7" y1="324.1" x2="482.7" y2="320.1" stroke="#7a7a7a" stroke-width="1.1"/>
<line x1="496.0" y1="324.1" x2="496.0" y2="321.6" stroke="#7a7a7a" stroke-width="1.1"/>
<line x1="509.3" y1="324.1" x2="509.3" y2="320.1" stroke="#7a7a7a" stroke-width="1.1"/>
<line x1="522.7" y1="324.1" x2="522.7" y2="321.6" stroke="#7a7a7a" stroke-width="1.1"/>
<line x1="536.0" y1="324.1" x2="536.0" y2="320.1" stroke="#7a7a7a" stroke-width="1.1"/>
<line x1="549.3" y1="324.1" x2="549.3" y2="321.6" stroke="#7a7a7a" stroke-width="1.1"/>
<line x1="562.7" y1="324.1" x2="562.7" y2="320.1" stroke="#7a7a7a" stroke-width="1.1"/>
<line x1="576.0" y1="324.1" x2="576.0" y2="321.6" stroke="#7a7a7a" stroke-width="1.1"/>
<line x1="589.3" y1="324.1" x2="589.3" y2="320.1" stroke="#7a7a7a" stroke-width="1.1"/>
<line x1="602.7" y1="324.1" x2="602.7" y2="321.6" stroke="#7a7a7a" stroke-width="1.1"/>
<line x1="616.0" y1="324.1" x2="616.0" y2="320.1" stroke="#7a7a7a" stroke-width="1.1"/>
<line x1="629.3" y1="324.1" x2="629.3" y2="321.6" stroke="#7a7a7a" stroke-width="1.1"/>
<text x="456.0" y="336.3" font-size="10" fill="#000" font-weight="normal" text-anchor="middle" >800</text>
<text x="482.7" y="336.3" font-size="10" fill="#000" font-weight="normal" text-anchor="middle" >1000</text>
<text x="509.3" y="336.3" font-size="10" fill="#000" font-weight="normal" text-anchor="middle" >1200</text>
<text x="536.0" y="336.3" font-size="10" fill="#000" font-weight="normal" text-anchor="middle" >1400</text>
<text x="562.7" y="336.3" font-size="10" fill="#000" font-weight="normal" text-anchor="middle" >1600</text>
<text x="589.3" y="336.3" font-size="10" fill="#000" font-weight="normal" text-anchor="middle" >1800</text>
<text x="616.0" y="336.3" font-size="10" fill="#000" font-weight="normal" text-anchor="middle" >2000</text>
<text x="546" y="347.6" font-size="11" text-anchor="middle">Wavenumber (cm<tspan dy="-4" font-size="7">-1</tspan><tspan dy="4">)</tspan></text>
<text transform="translate(445.3,170.5) rotate(-90)" font-size="11" text-anchor="middle">Raman intensity (arb. units)</text>
<text x="468.8" y="19.2" font-size="11" fill="#000" font-weight="bold" text-anchor="start" >C)</text>
<text x="517.3" y="16.4" font-size="9.85" fill="#000" font-weight="bold" text-anchor="start" >H5N1 virus/Ag NPs array</text>
<text x="517" y="35.1" font-size="11">1355 cm<tspan dy="-5" font-size="6.3">-1</tspan></text>
<text x="504.4" y="55.2" font-size="11" fill="#000" font-weight="normal" text-anchor="start" >1232</text>
<line x1="529.5" y1="38.5" x2="529.5" y2="53" stroke="#000" stroke-width="0.8"/><path d="M527.8,52 L531.2,52 L529.5,56.5 Z" fill="#000"/>
<line x1="514" y1="58" x2="514" y2="65" stroke="#000" stroke-width="0.8"/><path d="M512.3,64 L515.7,64 L514,68.2 Z" fill="#000"/>
<path d="M456.0,117.3 L456.9,115.4 L457.7,114.7 L458.7,110.9 L459.4,104.4 L460.2,95.9 L460.8,85.6 L462.0,66.8 L462.8,68.2 L463.7,72.0 L464.6,75.3 L465.4,78.8 L466.3,83.3 L467.1,88.2 L468.0,93.7 L468.8,98.5 L470.0,105.8 L470.7,105.3 L471.4,102.7 L472.2,99.1 L473.1,97.6 L473.9,96.0 L474.8,96.8 L475.9,98.1 L476.9,98.5 L477.9,100.4 L478.7,101.9 L479.9,99.3 L480.5,98.5 L481.3,96.8 L482.3,95.3 L483.4,95.9 L484.7,94.2 L485.6,91.7 L486.4,89.1 L487.6,85.6 L488.5,81.4 L489.3,75.4 L490.2,67.9 L491.0,61.7 L491.7,57.0 L492.5,53.0 L493.3,56.4 L494.3,59.9 L495.0,61.7 L495.7,64.4 L496.6,66.7 L497.7,66.1 L498.8,64.4 L499.7,62.0 L500.4,57.6 L501.2,54.4 L502.0,53.0 L503.0,56.2 L503.9,63.3 L504.8,71.2 L505.7,79.3 L506.4,83.1 L507.3,88.2 L508.2,91.0 L509.3,94.2 L510.2,95.1 L511.0,95.6 L511.7,91.3 L512.6,79.3 L513.8,71.6 L515.1,77.6 L515.8,83.3 L516.5,87.0 L517.7,83.6 L518.5,81.4 L519.4,80.2 L520.2,77.1 L521.1,75.9 L522.3,76.8 L523.3,73.3 L524.5,74.2 L525.4,71.7 L526.2,69.1 L527.1,62.2 L527.7,58.4 L528.5,56.2 L529.7,58.8 L530.5,60.1 L531.4,62.2 L532.3,62.5 L533.1,64.8 L534.3,70.8 L535.6,69.9 L536.4,72.2 L537.0,74.2 L537.8,77.9 L538.7,81.0 L539.5,82.4 L540.4,82.7 L541.3,81.9 L542.1,81.9 L543.3,70.8 L544.1,66.4 L545.0,62.2 L546.2,64.8 L547.0,70.5 L547.6,75.9 L548.2,81.3 L549.0,87.9 L549.8,91.1 L550.7,94.7 L551.7,99.3 L552.9,102.8 L553.6,105.2 L554.4,107.5 L555.4,108.0 L556.2,108.4 L557.1,109.4 L558.0,108.8 L558.9,108.8 L559.8,107.5 L560.6,107.1 L561.6,105.3 L562.6,102.8 L563.5,101.8 L564.5,100.0 L565.5,98.5 L566.4,99.0 L567.4,100.3 L568.3,101.3 L569.3,101.3 L570.3,102.6 L571.2,104.2 L572.2,106.5 L573.1,107.7 L574.0,109.9 L574.9,111.7 L575.9,115.0 L576.9,117.0 L577.8,118.7 L578.7,119.7 L579.7,119.9 L580.7,119.5 L581.6,119.0 L582.6,118.4 L583.5,117.5 L584.4,117.0 L585.4,115.6 L586.3,115.1 L587.3,114.4 L588.3,114.2" fill="none" stroke="#861014" stroke-width="1.3" stroke-linejoin="round" stroke-linecap="round" opacity="1.0"/>
<path d="M456.0,143.6 L456.9,140.9 L457.7,135.9 L458.6,130.2 L459.4,122.2 L460.2,115.8 L461.1,112.0 L461.8,108.3 L462.5,107.7 L463.7,113.7 L464.5,117.4 L465.4,119.7 L466.3,123.1 L467.1,125.6 L467.9,130.3 L468.8,134.2 L469.6,137.1 L470.5,139.3 L471.2,136.7 L472.2,133.3 L473.0,133.8 L473.9,134.2 L474.7,134.7 L475.4,134.0 L476.2,135.0 L477.1,135.5 L477.9,135.9 L479.1,133.3 L479.9,132.7 L480.8,132.5 L481.7,131.5 L482.5,129.9 L483.4,131.5 L484.2,130.8 L485.1,129.8 L485.9,125.6 L486.7,122.7 L487.5,119.2 L488.5,117.1 L489.4,116.2 L490.2,116.2 L491.3,108.6 L492.2,104.3 L492.9,104.4 L493.7,107.9 L494.5,110.3 L495.6,112.6 L496.7,114.5 L497.7,113.1 L498.7,111.1 L499.6,108.8 L500.5,104.4 L501.3,102.6 L502.5,106.3 L503.5,112.0 L504.3,115.4 L505.0,119.9 L505.9,123.6 L506.7,129.3 L507.3,133.7 L508.1,137.0 L508.9,135.4 L509.8,135.3 L510.7,135.8 L511.5,136.2 L512.7,124.2 L513.9,117.4 L514.9,124.2 L516.1,128.5 L516.9,128.0 L517.8,124.2 L518.6,122.8 L519.5,120.8 L520.3,119.2 L521.2,119.1 L522.1,118.4 L523.0,116.5 L524.1,118.2 L524.8,117.3 L525.5,113.9 L526.3,110.8 L527.2,107.9 L527.9,109.7 L528.6,110.5 L529.8,113.9 L531.0,113.1 L531.8,116.7 L532.7,119.9 L533.8,121.5 L534.9,121.6 L536.0,122.6 L537.1,124.2 L538.0,126.1 L538.8,125.9 L540.0,129.3 L540.9,128.1 L541.8,123.3 L542.8,117.4 L544.0,114.8 L544.9,116.2 L545.7,117.4 L546.6,121.0 L547.4,124.2 L548.4,128.4 L549.4,132.7 L550.3,136.3 L551.2,139.6 L552.1,143.0 L553.2,146.4 L554.1,149.4 L555.2,150.4 L556.2,152.0 L557.0,153.9 L557.9,153.7 L558.7,152.7 L559.6,152.5 L560.4,150.3 L561.2,150.0 L561.9,147.9 L562.7,146.8 L563.7,145.3 L564.7,144.4 L565.7,142.7 L566.8,144.2 L567.9,145.7 L568.9,147.7 L569.8,149.6 L570.7,152.5 L571.5,154.1 L572.2,156.8 L573.0,158.2 L574.0,160.5 L575.2,163.9 L575.9,165.7 L576.7,165.1 L577.5,166.2 L578.3,167.7 L579.0,166.8 L579.8,167.4 L580.6,168.0 L581.4,166.8 L582.1,165.5 L583.0,163.9 L583.9,162.8 L584.7,163.6 L585.5,164.6 L586.2,165.2 L587.0,165.2 L587.8,165.1" fill="none" stroke="#ff0000" stroke-width="1.2" stroke-linejoin="round" stroke-linecap="round" opacity="1.0"/>
<path d="M456.0,191.3 L456.9,188.1 L457.7,186.2 L458.4,181.1 L459.1,177.6 L460.3,180.2 L461.5,167.4 L462.1,160.5 L462.8,157.1 L463.4,160.1 L464.2,163.9 L465.4,166.5 L466.0,170.5 L466.6,174.2 L467.3,175.6 L468.0,179.3 L468.8,181.0 L469.7,185.3 L470.6,189.0 L471.4,189.6 L472.2,185.5 L473.1,182.7 L473.9,182.6 L474.8,184.4 L475.6,186.3 L476.5,185.3 L477.4,185.6 L478.2,186.2 L479.1,189.1 L479.9,189.6 L480.5,186.9 L481.3,183.6 L481.9,183.6 L482.7,182.0 L483.4,182.7 L484.3,182.1 L485.1,181.0 L485.8,182.5 L486.4,181.9 L487.1,180.0 L487.6,176.8 L488.5,173.9 L489.3,169.1 L490.1,162.4 L491.0,155.4 L492.2,152.0 L492.8,154.1 L493.6,158.8 L494.3,158.7 L495.0,157.1 L496.0,163.8 L497.0,169.9 L497.8,168.5 L498.7,167.4 L499.4,164.1 L500.1,164.3 L500.8,162.2 L501.7,163.3 L502.5,165.6 L503.4,170.2 L504.2,174.2 L504.9,179.2 L505.7,182.9 L506.4,186.2 L507.2,192.7 L508.1,194.7 L508.9,193.2 L509.8,191.3 L510.7,190.3 L511.7,187.9 L512.4,187.3 L513.1,187.0 L514.3,176.8 L514.9,178.9 L515.5,179.3 L516.2,182.5 L516.8,182.7 L517.5,180.0 L518.2,178.5 L519.0,174.8 L519.9,174.2 L520.5,174.3 L521.1,175.9 L521.9,174.7 L522.8,170.8 L523.4,171.0 L524.0,171.6 L524.7,169.9 L525.4,166.5 L526.3,163.2 L527.1,162.2 L527.8,164.3 L528.5,167.4 L529.1,169.2 L529.7,170.8 L530.9,168.2 L531.6,169.7 L532.2,173.3 L533.0,176.6 L533.9,179.3 L534.7,181.3 L535.6,182.7 L536.3,185.2 L537.0,185.3 L537.6,187.4 L538.2,187.9 L539.4,182.7 L540.1,181.4 L540.8,177.6 L541.6,175.2 L542.5,170.8 L543.3,168.9 L544.2,165.6 L545.1,167.7 L545.9,169.9 L546.5,171.9 L547.3,175.0 L547.9,176.0 L548.5,175.0 L549.3,179.5 L549.7,182.7 L550.3,187.3 L551.0,189.6 L551.8,193.2 L552.7,196.4 L553.4,200.8 L554.4,202.8 L555.2,201.9 L556.1,203.1 L557.0,202.0 L557.9,203.2 L558.7,203.9 L559.6,205.4 L560.4,204.2 L561.3,206.0 L562.1,204.5 L563.1,204.7 L563.9,200.7 L564.7,200.3 L565.6,198.9 L566.4,196.8 L567.2,198.8 L568.1,202.8 L568.9,204.4 L569.8,207.4 L570.7,210.3 L571.5,212.3 L572.2,213.6 L573.0,213.7 L573.7,213.9 L574.5,217.0 L575.2,218.2 L575.9,218.2 L576.7,221.3 L577.5,221.7 L578.2,221.8 L579.0,223.8 L579.8,222.8 L580.6,223.6 L581.3,221.5 L582.1,221.0 L582.9,222.9 L583.7,221.9 L584.4,222.8 L585.4,219.5 L586.2,218.7 L587.0,220.7 L587.8,222.8 L588.6,222.1 L589.4,223.9" fill="none" stroke="#008000" stroke-width="1.2" stroke-linejoin="round" stroke-linecap="round" opacity="1.0"/>
<path d="M456.0,237.9 L456.8,238.7 L457.7,240.4 L458.6,239.2 L459.4,239.6 L460.3,236.3 L460.8,232.7 L462.0,226.8 L463.2,221.6 L463.8,222.3 L464.5,225.9 L465.2,226.5 L465.9,229.3 L466.5,229.8 L467.1,231.0 L468.3,236.2 L468.9,238.9 L469.7,238.7 L470.5,239.1 L471.4,237.9 L472.3,240.4 L473.1,241.3 L473.9,239.2 L474.8,238.7 L475.6,239.8 L476.5,241.3 L477.4,241.8 L478.2,243.0 L479.1,240.4 L479.9,239.6 L480.7,239.3 L481.6,241.3 L482.5,240.3 L483.4,240.4 L484.3,239.2 L485.1,236.2 L485.7,237.7 L486.4,237.9 L487.0,239.8 L487.6,239.6 L488.8,232.7 L489.5,230.3 L490.2,225.9 L491.1,218.5 L491.9,212.2 L492.5,202.1 L493.3,196.8 L494.1,199.3 L495.0,202.8 L495.9,208.2 L496.7,210.5 L497.6,207.2 L498.4,202.0 L499.0,205.6 L499.6,208.8 L500.8,216.5 L501.5,219.3 L502.2,224.2 L503.0,227.7 L503.9,230.2 L504.8,231.9 L505.6,232.7 L506.3,236.1 L506.9,239.6 L507.4,240.9 L508.1,243.0 L509.0,241.6 L509.8,240.4 L511.0,246.4 L511.7,243.3 L512.4,241.3 L513.4,237.0 L514.1,239.1 L514.8,239.6 L515.6,243.7 L516.5,244.7 L517.3,243.5 L518.2,241.3 L519.1,239.8 L519.9,239.6 L520.5,239.7 L521.1,237.9 L522.3,240.4 L523.3,232.7 L524.1,230.8 L525.0,228.5 L525.7,225.4 L526.2,219.9 L527.4,213.1 L528.1,214.6 L528.8,214.8 L529.6,218.4 L530.2,222.5 L531.4,226.8 L532.2,227.5 L533.1,228.5 L534.0,229.5 L534.8,230.2 L535.7,234.5 L536.5,239.6 L537.3,240.5 L538.2,243.0 L539.1,244.6 L539.9,246.4 L540.6,245.4 L541.1,241.3 L541.8,236.6 L542.5,234.4 L543.1,229.6 L543.8,227.6 L544.4,225.8 L545.0,224.2 L545.6,224.5 L546.2,226.8 L546.9,230.7 L547.6,234.4 L548.3,236.0 L549.0,237.0 L549.6,235.7 L550.2,235.3 L551.4,241.3 L552.0,242.3 L552.7,240.4 L553.4,240.6 L554.1,243.0 L555.3,244.7 L556.1,245.3 L557.0,246.4 L557.7,246.1 L558.5,247.8 L559.3,247.9 L560.1,247.8 L560.9,248.5 L561.6,249.0 L562.4,248.7 L563.1,245.6 L563.8,244.4 L564.6,243.1 L565.3,242.7 L566.1,241.0 L566.9,240.8 L567.6,242.5 L568.4,245.6 L569.2,246.3 L569.9,249.3 L570.7,250.1 L571.5,252.0 L572.2,252.5 L573.0,254.7 L573.7,255.4 L574.4,256.2 L575.2,258.1 L576.0,258.8 L576.7,258.3 L577.5,260.4 L578.3,262.2 L579.0,264.1 L579.8,263.8 L580.6,264.8 L581.3,263.6 L582.1,262.7 L582.9,264.9 L583.6,263.8 L584.4,266.1 L585.1,265.3 L585.9,266.6 L586.6,265.0 L587.6,266.6 L588.5,267.2" fill="none" stroke="#0000ff" stroke-width="1.2" stroke-linejoin="round" stroke-linecap="round" opacity="1.0"/>
<path d="M456.0,301.7 L456.8,297.4 L457.6,292.3 L458.4,293.8 L459.1,293.8 L459.9,292.0 L460.7,288.4 L461.5,289.4 L462.3,287.6 L462.9,284.2 L463.5,280.6 L464.1,275.0 L465.1,289.1 L465.9,284.5 L466.6,282.9 L467.1,289.0 L467.7,295.4 L468.5,294.9 L469.3,291.5 L470.1,298.2 L470.9,304.0 L471.5,298.6 L472.1,290.7 L472.8,291.8 L473.5,295.4 L474.3,288.3 L475.1,281.3 L475.8,287.5 L476.4,295.4 L477.0,292.0 L477.6,288.4 L478.1,292.9 L478.7,297.0 L479.5,290.7 L480.3,287.6 L480.9,289.4 L481.5,293.1 L482.2,288.8 L482.9,286.0 L483.5,286.2 L484.2,283.7 L484.8,290.8 L485.4,296.2 L485.9,286.5 L486.5,279.0 L487.3,278.8 L488.1,276.6 L488.9,274.6 L489.7,275.0 L490.2,269.9 L490.8,264.1 L491.6,264.5 L492.3,267.2 L493.0,261.7 L493.6,259.4 L494.4,262.5 L495.1,257.0 L495.8,262.5 L496.4,265.7 L496.9,264.0 L497.5,264.1 L498.1,267.9 L498.6,273.5 L499.2,272.7 L499.8,268.8 L500.5,272.3 L501.1,273.5 L501.6,269.3 L502.2,266.4 L502.8,272.2 L503.4,275.0 L504.1,276.7 L504.9,278.2 L505.5,278.0 L506.1,276.6 L506.9,280.4 L507.7,286.0 L508.4,287.8 L509.2,286.8 L510.0,288.2 L510.8,288.4 L511.5,286.3 L512.1,281.3 L512.9,277.9 L513.6,271.9 L514.2,273.2 L514.7,275.8 L515.5,277.4 L516.3,279.8 L516.9,280.7 L517.5,283.7 L518.0,280.2 L518.6,279.0 L519.4,280.7 L520.2,285.2 L520.9,281.5 L521.5,279.0 L522.2,280.5 L523.0,281.3 L523.8,277.8 L524.6,277.4 L525.6,275.0 L526.3,274.1 L527.0,272.0 L527.7,269.8 L528.4,268.6 L529.2,270.7 L530.0,274.0 L530.8,276.5 L531.6,277.0 L532.3,279.9 L533.0,283.0 L534.0,281.0 L535.0,288.0 L535.7,285.9 L536.4,285.0 L537.4,296.0 L538.4,290.0 L539.0,290.9 L539.6,292.0 L540.3,290.2 L541.0,287.0 L541.6,286.1 L542.3,288.0 L543.1,286.0 L544.0,281.0 L544.5,276.0 L545.1,274.0 L545.7,276.3 L546.3,277.0 L547.1,280.6 L548.0,282.0 L548.7,281.3 L549.3,284.6 L550.0,284.5 L550.7,284.9 L551.3,286.4 L552.0,287.0 L552.8,284.9 L553.5,286.0 L554.2,287.0 L555.0,291.0 L555.6,288.5 L556.3,288.0 L557.1,290.5 L558.0,290.0 L558.7,287.7 L559.3,288.2 L560.0,286.0 L560.7,287.7 L561.3,288.1 L562.0,287.0 L562.8,286.0 L563.5,286.0 L564.2,286.2 L564.8,287.4 L565.5,288.0 L566.2,290.4 L567.0,291.0 L567.7,290.7 L568.3,293.8 L569.0,294.0 L569.6,296.5 L570.3,297.0 L570.9,296.7 L571.5,294.0 L572.2,294.5 L572.9,298.0 L573.6,301.9 L574.3,303.0 L575.1,302.7 L575.9,305.0 L576.9,310.0 L577.5,307.0 L578.2,305.0 L579.0,308.4 L579.8,311.0 L580.6,310.8 L581.4,308.0 L582.1,310.0 L582.8,313.0 L583.8,309.0 L584.6,313.4 L585.4,315.0 L586.1,313.6 L586.8,312.0 L587.5,312.9 L588.2,315.0 L589.0,316.4 L589.8,319.0 L590.3,322.0" fill="none" stroke="#ff00ff" stroke-width="1.3" stroke-linejoin="round" stroke-linecap="round" opacity="1.0"/>
<text x="462.8" y="152" font-size="10.5" fill="#ff0000" font-weight="bold" text-anchor="start" >x5</text>
<text x="461.1" y="204.5" font-size="10.5" fill="#008000" font-weight="bold" text-anchor="start" >x10</text>
<text x="461.1" y="258" font-size="10.5" fill="#0000ff" font-weight="bold" text-anchor="start" >x20</text>
<text x="460.2" y="316.5" font-size="10.5" fill="#ff00ff" font-weight="bold" text-anchor="start" >x100</text>
<text x="589.7" y="121.9" font-size="10.5" fill="#861014" font-weight="bold" text-anchor="start" >400 ng/&#956;l</text>
<text x="593.5" y="174.2" font-size="10.5" fill="#ff0000" font-weight="bold" text-anchor="start" >80 ng/&#956;l</text>
<text x="593.5" y="222.8" font-size="10.5" fill="#008000" font-weight="bold" text-anchor="start" >40 ng/&#956;l</text>
<text x="593.5" y="267.5" font-size="10.5" fill="#0000ff" font-weight="bold" text-anchor="start" >25 ng/&#956;l</text>
<text x="598" y="314.7" font-size="10.5" fill="#ff00ff" font-weight="bold" text-anchor="start" >4 ng/&#956;l</text>
</svg></body></html>
